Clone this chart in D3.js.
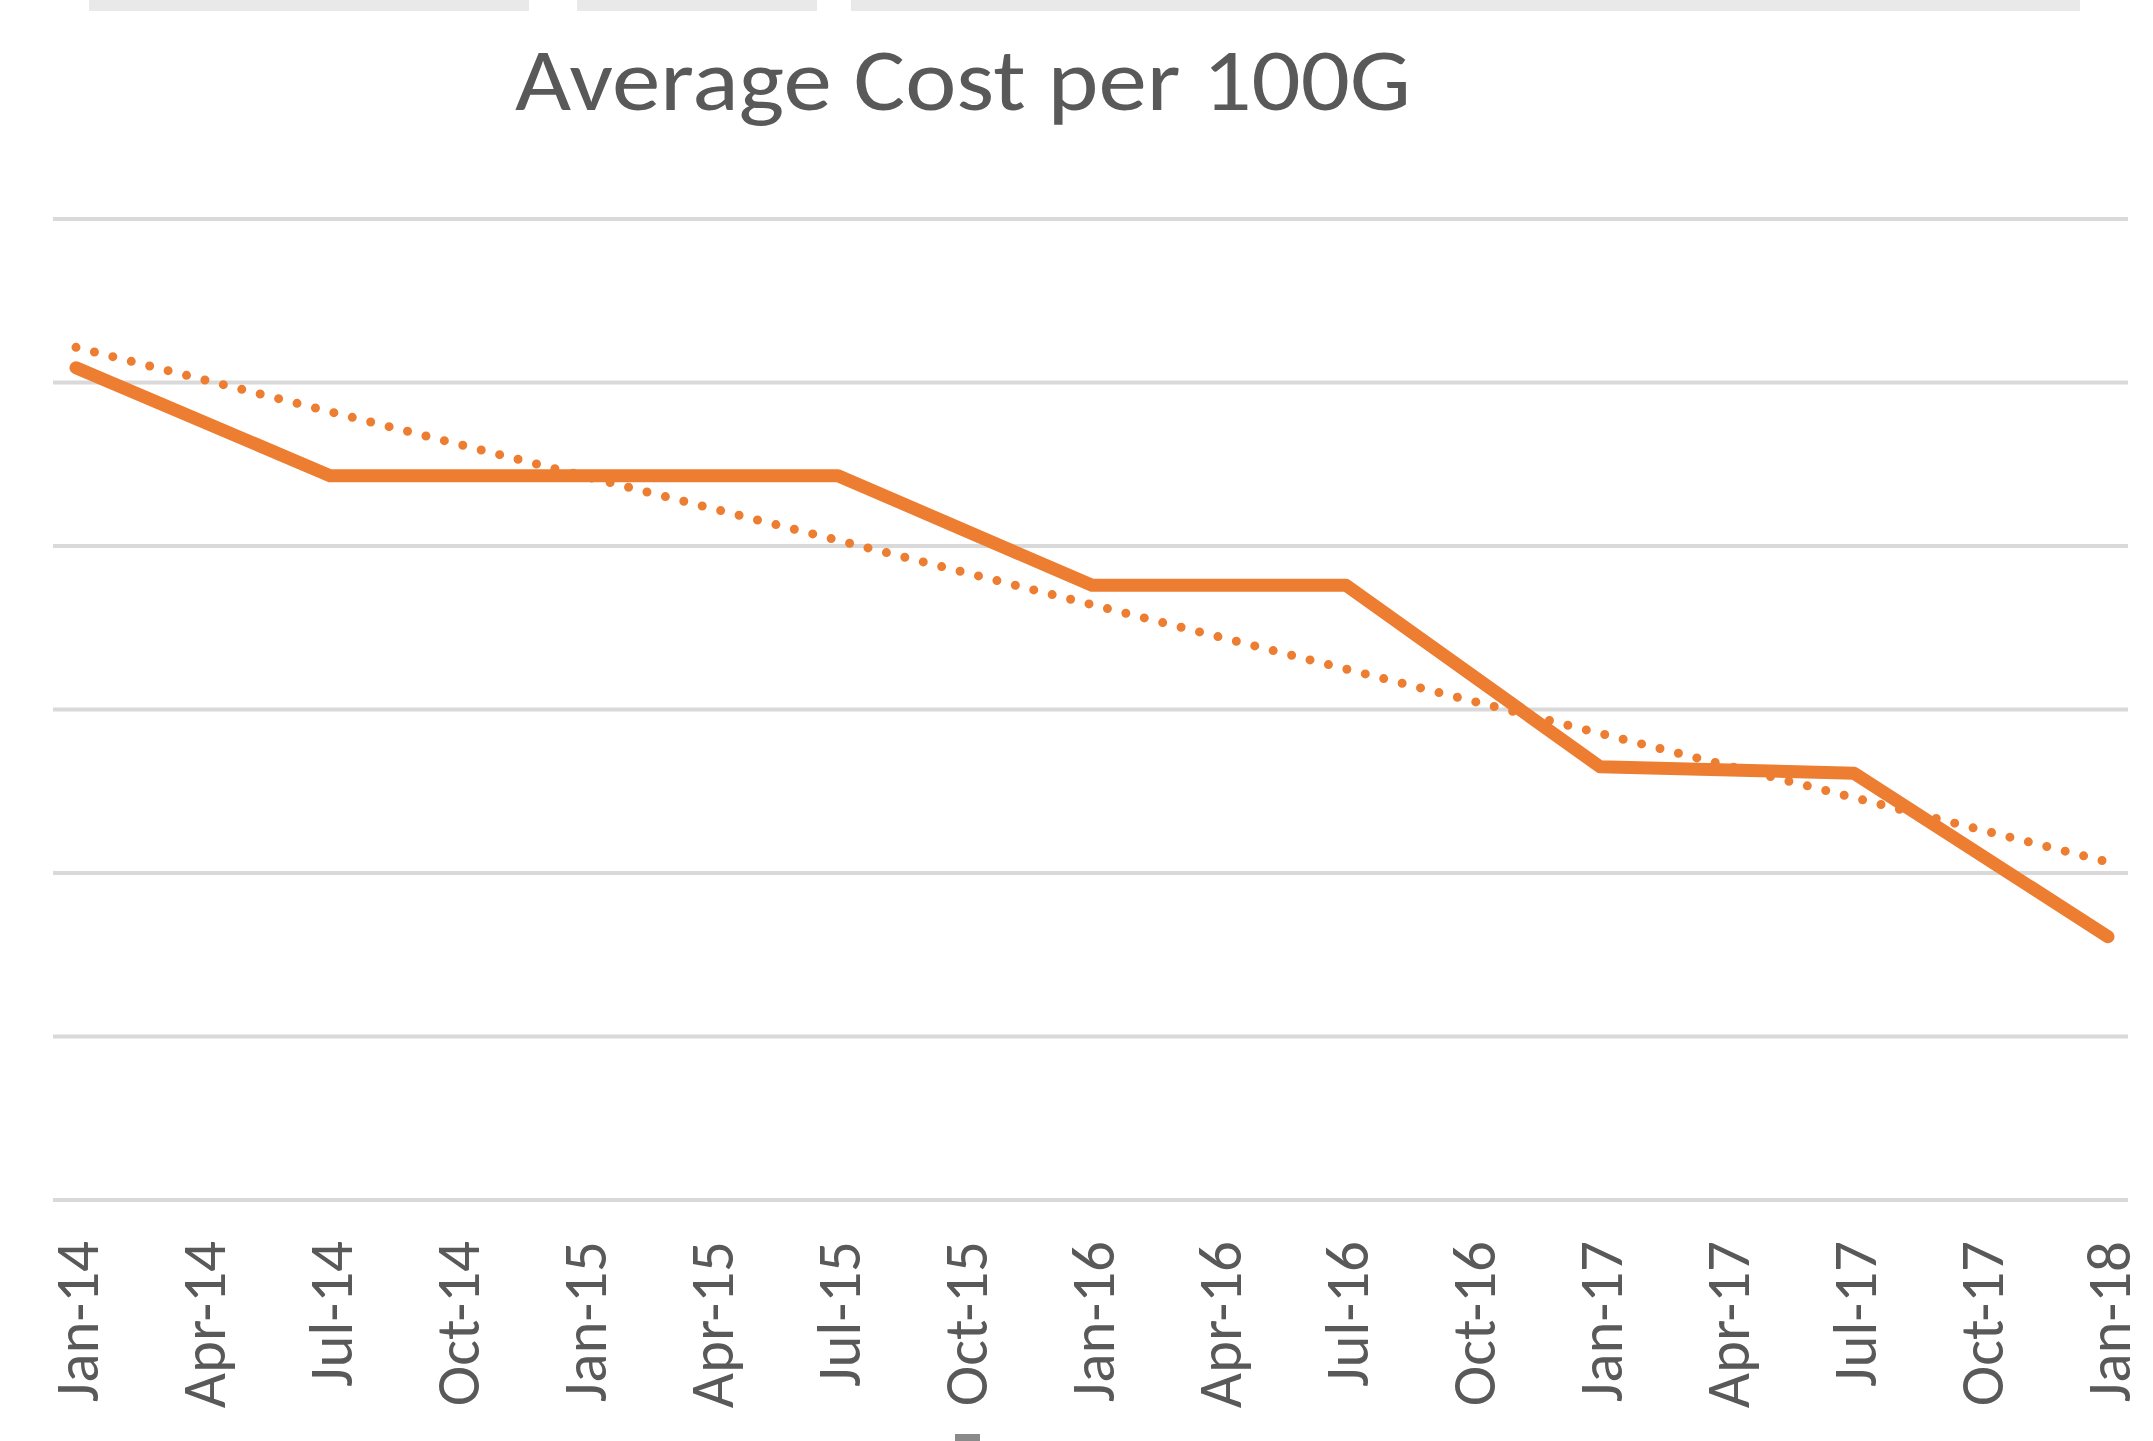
<!DOCTYPE html>
<html>
<head>
<meta charset="utf-8">
<script src="https://cdn.jsdelivr.net/npm/d3@7"></script>
<style>
  html, body { margin: 0; padding: 0; background: #fff; }
  svg { display: block; }
</style>
</head>
<body>
<script>
const w = 2153;
const h = 1441;

// quarterly tick labels on the x axis
const categories = ["Jan-14", "Apr-14", "Jul-14", "Oct-14", "Jan-15", "Apr-15", "Jul-15", "Oct-15",
  "Jan-16", "Apr-16", "Jul-16", "Oct-16", "Jan-17", "Apr-17", "Jul-17", "Oct-17", "Jan-18"];
// half-yearly data points
const pointDates = ["Jan-14", "Jul-14", "Jan-15", "Jul-15", "Jan-16", "Jul-16", "Jan-17", "Jul-17", "Jan-18"];
const costValues = [50.9, 44.3, 44.3, 44.3, 37.6, 37.6, 26.5, 26.1, 16.1];
// gridline values (axis labels are hidden in the source)
const yTicks = [0, 10, 20, 30, 40, 50, 60];

const orange = "#ED7D31";
const textColor = "#595959";

const svg = d3.select("body")
  .append("svg")
  .attr("width", w)
  .attr("height", h);

const x = d3.scalePoint()
  .domain(categories)
  .range([76, 2108]);

const y = d3.scaleLinear()
  .domain([0, 60])
  .range([1200, 219]);

// strip of the cropped screenshot at the very top
[[89, 440], [577, 240], [851, 1229]].forEach(s => {
  svg.append("rect")
    .attr("x", s[0]).attr("y", 0)
    .attr("width", s[1]).attr("height", 11)
    .style("fill", "#e9e9e9");
});

// title
svg.append("text")
  .attr("x", 963)
  .attr("y", 110)
  .attr("text-anchor", "middle")
  .attr("textLength", 896)
  .attr("lengthAdjust", "spacingAndGlyphs")
  .style("font-family", "Carlito, Calibri, Lato, sans-serif")
  .style("font-size", "88px")
  .style("fill", textColor)
  .text("Average Cost per 100G");

// horizontal gridlines
svg.selectAll("line.grid")
  .data(yTicks)
  .enter()
  .append("line")
  .attr("class", "grid")
  .attr("x1", 53)
  .attr("x2", 2128)
  .attr("y1", d => y(d))
  .attr("y2", d => y(d))
  .style("stroke", "#d9d9d9")
  .style("stroke-width", 4);

// x axis labels, rotated
const xAxis = d3.axisBottom(x).tickSize(0).tickPadding(0);
const gx = svg.append("g")
  .attr("transform", "translate(0,1200)")
  .call(xAxis);
gx.select(".domain").remove();
gx.selectAll("text")
  .attr("transform", "rotate(-90)")
  .attr("x", -41)
  .attr("y", 0)
  .attr("dy", "0.35em")
  .attr("text-anchor", "end")
  .style("font-family", "Carlito, Calibri, Lato, sans-serif")
  .style("font-size", "61px")
  .style("fill", textColor);

// data
const data = pointDates.map((d, i) => ({ cat: d, value: costValues[i], idx: categories.indexOf(d) }));

// linear trendline (least squares over date position)
const mx = d3.mean(data, d => d.idx);
const my = d3.mean(data, d => d.value);
const slope = d3.sum(data, d => (d.idx - mx) * (d.value - my)) / d3.sum(data, d => (d.idx - mx) ** 2);
const intercept = my - slope * mx;
const trend = [data[0], data[data.length - 1]].map(d => ({ cat: d.cat, value: intercept + slope * d.idx }));

const line = d3.line()
  .x(d => x(d.cat))
  .y(d => y(d.value));

svg.append("path")
  .datum(trend)
  .attr("d", line)
  .style("fill", "none")
  .style("stroke", orange)
  .style("stroke-width", 9)
  .style("stroke-linecap", "round")
  .style("stroke-dasharray", "0,19");

svg.append("path")
  .datum(data)
  .attr("d", line)
  .style("fill", "none")
  .style("stroke", orange)
  .style("stroke-width", 13)
  .style("stroke-linecap", "round")
  .style("stroke-linejoin", "round");

// small crop artifact at bottom edge
svg.append("rect")
  .attr("x", 955).attr("y", 1434)
  .attr("width", 25).attr("height", 7)
  .style("fill", "#8a8a8a");
</script>
</body>
</html>
